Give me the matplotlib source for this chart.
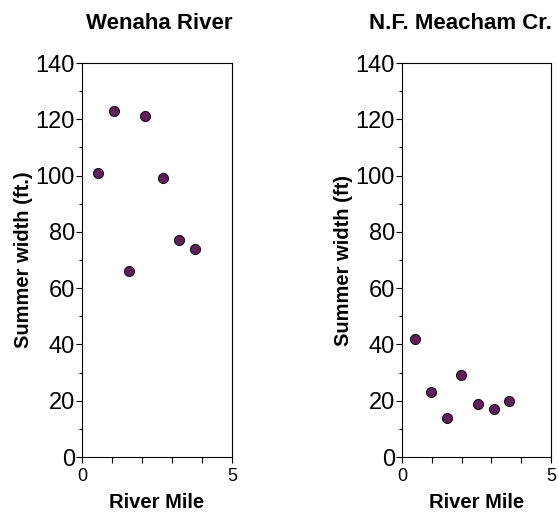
import matplotlib as mpl

mpl.use("agg")

import matplotlib.pyplot as plt
from matplotlib.ticker import MultipleLocator, FixedLocator, NullFormatter

plt.rcParams['font.family'] = ['Liberation Sans', 'DejaVu Sans']

# Wenaha River
wen_mile = [0.52, 1.07, 1.56, 2.11, 2.69, 3.24, 3.76]
wen_width = [101, 123, 66, 121, 99, 77, 74]

# N.F. Meacham Cr.
nfm_mile = [0.44, 0.97, 1.50, 1.98, 2.56, 3.08, 3.58]
nfm_width = [42, 23, 14, 29, 19, 17, 20]

titles = ['Wenaha River', 'N.F. Meacham Cr.']
ylabels = ['Summer width (ft.)', 'Summer width (ft)']
xlabel = 'River Mile'

fig = plt.figure(figsize=(5.59, 5.16), dpi=100)
ax1 = fig.add_axes([0.1467, 0.1143, 0.2683, 0.7636])
ax2 = fig.add_axes([0.7191, 0.1143, 0.2665, 0.7636])

panels = [(ax1, wen_mile, wen_width), (ax2, nfm_mile, nfm_width)]
for i, (ax, xs, ys) in enumerate(panels):
    ax.scatter(xs, ys, s=52, color='#5e1f5b', edgecolors='#1a0a1a',
               linewidths=0.8, zorder=3, clip_on=False)
    ax.set_xlim(0, 5)
    ax.set_ylim(0, 140)
    ax.xaxis.set_major_locator(FixedLocator([0, 5]))
    ax.xaxis.set_minor_locator(FixedLocator([1, 2, 3, 4]))
    ax.xaxis.set_minor_formatter(NullFormatter())
    ax.yaxis.set_major_locator(MultipleLocator(20))
    ax.yaxis.set_minor_locator(MultipleLocator(10))
    ax.tick_params(axis='x', which='both', direction='out', length=4,
                   width=0.8, labelsize=13, pad=4, top=False)
    ax.tick_params(axis='y', which='major', direction='out', length=4,
                   width=0.8, labelsize=17, pad=1, right=False)
    ax.tick_params(axis='y', which='minor', direction='out', length=2,
                   width=0.8, right=False)
    for sp in ax.spines.values():
        sp.set_linewidth(0.8)
    ax.set_xlabel(xlabel, fontsize=14.5, fontweight='bold', labelpad=6)
    ax.set_ylabel(ylabels[i], fontsize=14.5, fontweight='bold', labelpad=2)

fig.text(0.284, 0.955, titles[0], fontsize=16, fontweight='bold',
         ha='center', va='center')
fig.text(0.823, 0.955, titles[1], fontsize=16, fontweight='bold',
         ha='center', va='center')

plt.savefig("out.png", dpi=100)
